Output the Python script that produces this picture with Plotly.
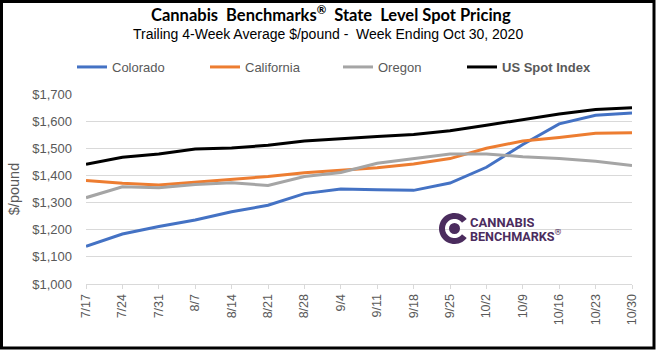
import numpy as np
import plotly.graph_objects as go

weeks = ["7/17", "7/24", "7/31", "8/7", "8/14", "8/21", "8/28", "9/4",
         "9/11", "9/18", "9/25", "10/2", "10/9", "10/16", "10/23", "10/30"]
colorado = [1139, 1184, 1212, 1236, 1266, 1290, 1333, 1350, 1347, 1345, 1372, 1430, 1514, 1590, 1622, 1630]
california = [1381, 1371, 1365, 1375, 1386, 1396, 1410, 1418, 1428, 1442, 1462, 1500, 1527, 1540, 1555, 1557]
oregon = [1318, 1358, 1355, 1367, 1373, 1363, 1396, 1411, 1445, 1463, 1479, 1479, 1469, 1462, 1452, 1437]
us_spot = [1441, 1467, 1479, 1497, 1501, 1511, 1527, 1534, 1543, 1551, 1565, 1585, 1606, 1626, 1643, 1649]

W, H = 656, 350
ML, MR, MT, MB = 86, 24, 94, 66
PW, PH = W - ML - MR, H - MT - MB


def px(x):
    return (x - ML) / PW


def py(y):
    return (H - MB - y) / PH


TXT = "#595959"
fig = go.Figure()
series = [("Colorado", colorado, "#4472C4", "legend"),
          ("California", california, "#ED7D31", "legend"),
          ("Oregon", oregon, "#A5A5A5", "legend"),
          ("<b>US Spot Index</b>", us_spot, "#000000", "legend2")]
for name, vals, col, lg in series:
    fig.add_trace(go.Scatter(x=weeks, y=vals, mode="lines", name=name, legend=lg,
                             line=dict(color=col, width=3)))

shapes = [dict(type="rect", xref="paper", yref="paper",
               x0=px(1.5), x1=px(654), y0=py(1.5), y1=py(348),
               line=dict(color="black", width=3))]

# logo icon
cx, cy, ro, ri = 454.5, 228.5, 15.5, 9.5
a = np.linspace(np.radians(38), np.radians(322), 40)
outer = [(cx + ro * np.cos(t), cy - ro * np.sin(t)) for t in a]
inner = [(cx + ri * np.cos(t), cy - ri * np.sin(t)) for t in a[::-1]]
pts = outer + inner
path = "M " + " L ".join(f"{px(x):.5f},{py(y):.5f}" for x, y in pts) + " Z"
LOGO = "#4b2c5e"
shapes.append(dict(type="path", xref="paper", yref="paper", path=path,
                   fillcolor=LOGO, line=dict(width=0)))
shapes.append(dict(type="circle", xref="paper", yref="paper",
                   x0=px(cx - 5.5), x1=px(cx + 5.5), y0=py(cy + 5.5), y1=py(cy - 5.5),
                   fillcolor=LOGO, line=dict(width=0)))

annotations = [
    dict(text="Cannabis  Benchmarks<sup>®</sup>  State  Level Spot Pricing", x=px(331), y=py(14),
         xref="paper", yref="paper", showarrow=False, xanchor="center", yanchor="middle",
         font=dict(family="Lato", size=16.5, color="#000000", weight="bold")),
    dict(text="Trailing 4-Week Average $/pound -  Week Ending Oct 30, 2020", x=px(328), y=py(34),
         xref="paper", yref="paper", showarrow=False, xanchor="center", yanchor="middle",
         font=dict(family="Liberation Sans", size=14, color="#000000")),
    dict(text="CANNABIS", x=px(468), y=py(222.5), xref="paper", yref="paper", showarrow=False,
         xanchor="left", yanchor="middle", height=13, valign="middle",
         font=dict(family="Roboto", size=13, color=LOGO, weight="bold")),
    dict(text="BENCHMARKS<sup>®</sup>", x=px(468), y=py(235.5), xref="paper", yref="paper",
         showarrow=False, xanchor="left", yanchor="middle", height=13, valign="middle",
         font=dict(family="Roboto", size=12.6, color=LOGO, weight="bold")),
]

legend_common = dict(orientation="h", xanchor="left", y=py(67), yanchor="middle",
                     font=dict(family="Liberation Sans", size=13, color=TXT),
                     itemwidth=30, bgcolor="rgba(0,0,0,0)")

fig.update_layout(
    width=W, height=H, margin=dict(l=ML, r=MR, t=MT, b=MB, autoexpand=False),
    paper_bgcolor="white", plot_bgcolor="white",
    font=dict(family="Liberation Sans", color=TXT, size=13),
    showlegend=True,
    legend=dict(x=px(72), entrywidth=88, **legend_common),
    legend2=dict(x=px(462), **legend_common),
    shapes=shapes, annotations=annotations,
    xaxis=dict(type="category", range=[0, 15], showgrid=False,
               showline=True, linecolor="#d9d9d9", linewidth=1,
               ticks="outside", ticklen=4, tickcolor="#d9d9d9",
               tickangle=-90, tickfont=dict(size=12.5, color=TXT), automargin=False),
    yaxis=dict(range=[1000, 1700], dtick=100, tickprefix="$", tickformat=",",
               showgrid=True, gridcolor="#d9d9d9", gridwidth=1, zeroline=False,
               showline=False, ticklabelstandoff=13, tickfont=dict(size=13, color=TXT),
               title=dict(text="$/pound", font=dict(size=14.5, color=TXT), standoff=9),
               automargin=False),
)

fig.write_html("out.html")
